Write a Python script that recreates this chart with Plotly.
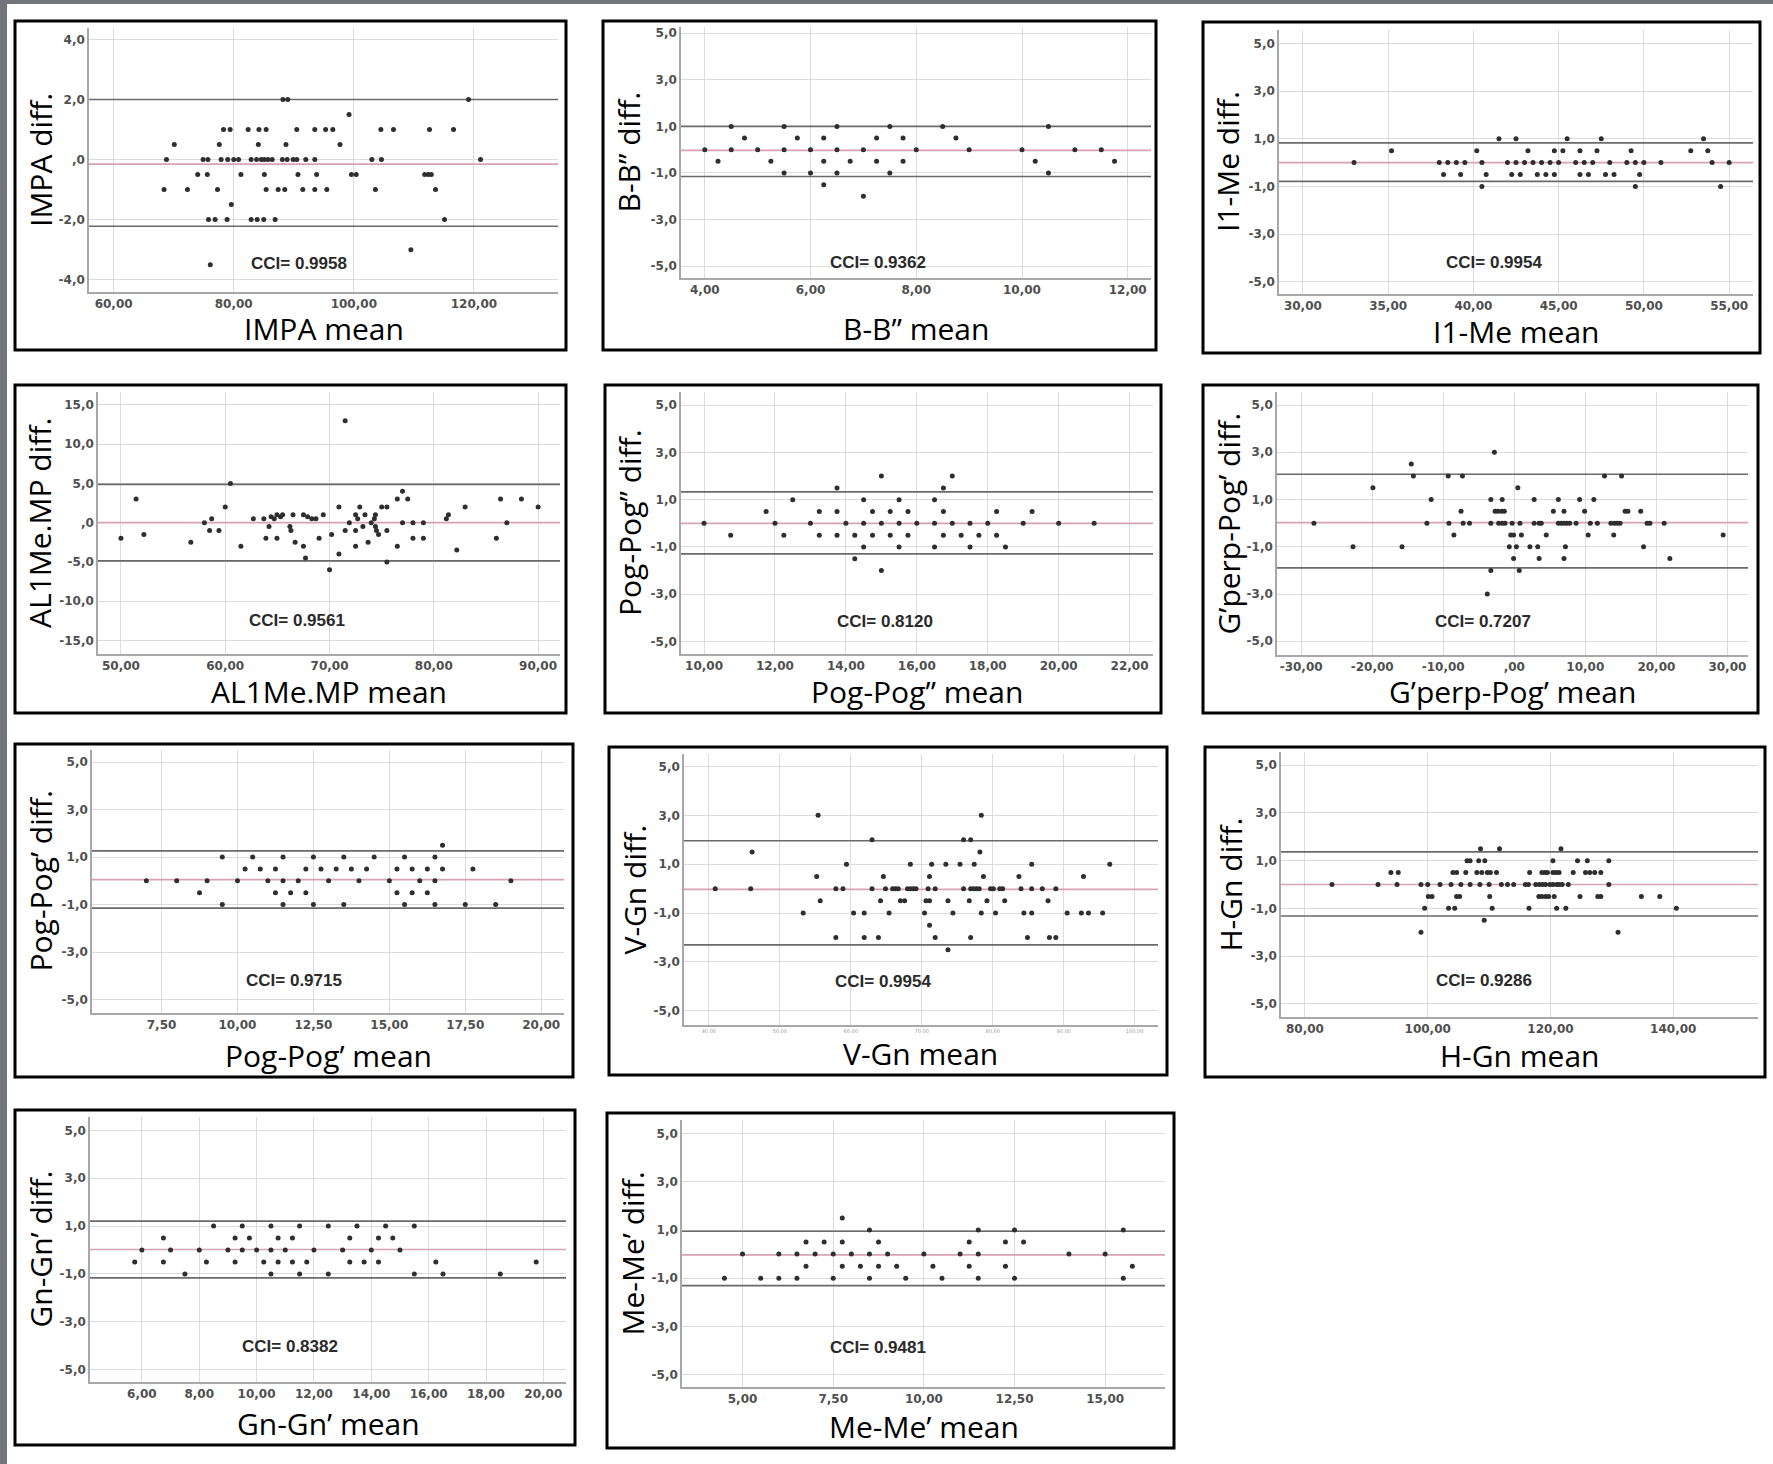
import plotly.graph_objects as go

W, H = 1773, 1464

# ---------------- DATA (mean, diff) pairs ----------------
impa = [(88.2, 2.0), (89.0, 2.0), (119.1, 2.0), (99.2, 1.5),
        (78.3, 1.0), (79.4, 1.0), (82.4, 1.0), (84.2, 1.0), (85.4, 1.0), (90.5, 1.0), (93.5, 1.0),
        (95.3, 1.0), (96.5, 1.0), (104.5, 1.0), (106.6, 1.0), (112.6, 1.0), (116.6, 1.0),
        (70.1, 0.5), (77.6, 0.5), (84.1, 0.5), (88.7, 0.5), (97.7, 0.5),
        (68.8, 0.0), (74.9, 0.0), (75.7, 0.0), (77.9, 0.0), (79.0, 0.0), (80.0, 0.0), (80.8, 0.0),
        (82.9, 0.0), (83.8, 0.0), (84.6, 0.0), (85.1, 0.0), (85.7, 0.0), (86.4, 0.0), (88.1, 0.0),
        (88.9, 0.0), (89.9, 0.0), (90.5, 0.0), (92.0, 0.0), (93.5, 0.0), (103.0, 0.0), (104.6, 0.0),
        (121.1, 0.0),
        (74.0, -0.5), (75.6, -0.5), (81.2, -0.5), (85.1, -0.5), (90.7, -0.5), (93.8, -0.5),
        (99.6, -0.5), (100.4, -0.5), (111.8, -0.5), (112.4, -0.5), (112.9, -0.5),
        (68.4, -1.0), (72.3, -1.0), (77.3, -1.0), (85.4, -1.0), (87.4, -1.0), (88.5, -1.0),
        (91.5, -1.0), (93.5, -1.0), (95.5, -1.0), (103.6, -1.0), (113.6, -1.0),
        (79.6, -1.5),
        (75.8, -2.0), (76.9, -2.0), (78.9, -2.0), (82.9, -2.0), (83.9, -2.0), (85.0, -2.0),
        (86.9, -2.0), (115.1, -2.0),
        (109.5, -3.0), (76.1, -3.5)]

bb = [(4.5, 1.0), (5.5, 1.0), (6.5, 1.0), (7.5, 1.0), (8.5, 1.0), (10.5, 1.0),
      (4.75, 0.5), (5.75, 0.5), (6.25, 0.5), (7.25, 0.5), (7.75, 0.5), (8.75, 0.5),
      (4.0, 0.0), (4.5, 0.0), (5.0, 0.0), (5.5, 0.0), (6.0, 0.0), (6.5, 0.0), (7.0, 0.0),
      (8.0, 0.0), (9.0, 0.0), (10.0, 0.0), (11.0, 0.0), (11.5, 0.0),
      (4.25, -0.5), (5.25, -0.5), (6.25, -0.5), (6.75, -0.5), (7.25, -0.5), (7.75, -0.5),
      (10.25, -0.5), (11.75, -0.5),
      (5.5, -1.0), (6.0, -1.0), (6.5, -1.0), (7.5, -1.0), (10.5, -1.0),
      (6.25, -1.5), (7.0, -2.0)]

i1me = [(41.5, 1.0), (42.5, 1.0), (45.5, 1.0), (47.5, 1.0), (53.5, 1.0),
        (35.2, 0.5), (40.2, 0.5), (43.2, 0.5), (44.75, 0.5), (45.25, 0.5), (46.25, 0.5),
        (47.25, 0.5), (49.25, 0.5), (52.75, 0.5), (53.75, 0.5),
        (33.0, 0.0), (38.0, 0.0), (38.5, 0.0), (39.0, 0.0), (39.5, 0.0), (40.5, 0.0), (42.0, 0.0),
        (42.5, 0.0), (43.0, 0.0), (43.5, 0.0), (44.0, 0.0), (44.5, 0.0), (45.0, 0.0), (46.0, 0.0),
        (46.5, 0.0), (47.0, 0.0), (48.0, 0.0), (49.0, 0.0), (49.5, 0.0), (50.0, 0.0), (51.0, 0.0),
        (54.0, 0.0), (55.0, 0.0),
        (38.25, -0.5), (39.25, -0.5), (40.75, -0.5), (42.25, -0.5), (42.75, -0.5), (43.75, -0.5),
        (44.25, -0.5), (44.75, -0.5), (46.25, -0.5), (46.75, -0.5), (47.75, -0.5), (48.25, -0.5),
        (49.75, -0.5),
        (40.5, -1.0), (49.5, -1.0), (54.5, -1.0)]

al1me = [(50.0, -2.0), (51.45, 3.0), (52.2, -1.5), (56.7, -2.5), (58.0, 0.0), (58.5, -1.0),
         (58.7, 0.5), (59.4, -1.0), (60.0, 2.0), (60.5, 5.0), (61.5, -3.0), (62.7, 0.5),
         (63.7, 0.5), (63.9, -2.0), (64.2, -0.5), (64.4, 0.75), (64.7, 0.5), (64.96, 1.0),
         (64.96, -2.0), (65.3, 0.75), (65.5, 1.0), (66.2, -0.5), (66.3, -1.0), (66.5, 1.0),
         (66.7, -2.5), (67.5, -3.0), (67.5, 1.0), (67.7, -4.5), (67.9, 0.75), (68.3, 0.5),
         (68.7, 0.5), (69.0, -2.0), (69.4, 1.0), (70.0, -6.0), (70.2, -1.5), (70.9, 2.0),
         (70.9, -4.0), (71.5, -1.0), (71.5, 13.0), (71.9, 0.0), (72.5, -1.0), (72.5, -3.0),
         (72.5, 1.0), (72.7, 0.5), (72.9, 2.0), (73.2, -0.5), (73.4, 1.0), (73.7, -2.5),
         (74.0, 0.0), (74.3, 0.5), (74.4, -0.5), (74.5, -1.0), (74.7, -1.5), (74.4, 1.0),
         (75.0, 2.0), (75.5, 2.0), (75.5, -1.0), (75.5, -5.0), (76.5, 3.0), (76.5, -3.0),
         (77.0, 4.0), (77.0, 0.0), (77.5, 3.0), (78.0, 0.0), (78.0, -2.0), (79.0, 0.0),
         (79.0, -2.0), (81.2, 0.5), (81.4, 1.0), (82.2, -3.5), (83.0, 2.0), (86.0, -2.0),
         (86.4, 3.0), (87.0, 0.0), (88.4, 3.0), (90.0, 2.0)]

pogpog2 = [(15.0, 2.0), (17.0, 2.0), (13.75, 1.5), (16.75, 1.5),
           (12.5, 1.0), (14.5, 1.0), (15.5, 1.0), (16.5, 1.0),
           (11.75, 0.5), (13.25, 0.5), (13.75, 0.5), (14.75, 0.5), (15.25, 0.5), (15.75, 0.5),
           (16.75, 0.5), (18.25, 0.5), (19.25, 0.5),
           (10.0, 0.0), (12.0, 0.0), (13.0, 0.0), (14.0, 0.0), (14.5, 0.0), (15.0, 0.0), (15.5, 0.0),
           (16.0, 0.0), (16.5, 0.0), (17.0, 0.0), (17.5, 0.0), (18.0, 0.0), (19.0, 0.0), (20.0, 0.0),
           (21.0, 0.0),
           (10.75, -0.5), (12.25, -0.5), (13.25, -0.5), (13.75, -0.5), (14.25, -0.5), (14.75, -0.5),
           (15.25, -0.5), (15.75, -0.5), (16.75, -0.5), (17.25, -0.5), (17.75, -0.5), (18.25, -0.5),
           (14.5, -1.0), (15.5, -1.0), (16.5, -1.0), (17.5, -1.0), (18.5, -1.0),
           (14.25, -1.5), (15.0, -2.0)]

gperp = [(-2.8, 3.0), (-14.5, 2.5),
         (-14.2, 2.0), (-9.3, 2.0), (-7.3, 2.0), (12.7, 2.0), (15.1, 2.0),
         (-19.9, 1.5), (0.5, 1.5),
         (-11.7, 1.0), (-3.3, 1.0), (-1.7, 1.0), (2.8, 1.0), (6.2, 1.0), (9.2, 1.0), (11.2, 1.0),
         (-7.5, 0.5), (-2.7, 0.5), (-2.3, 0.5), (-1.8, 0.5), (-1.4, 0.5), (5.5, 0.5), (7.0, 0.5),
         (9.9, 0.5), (15.6, 0.5), (16.0, 0.5), (17.8, 0.5),
         (-28.2, 0.0), (-12.3, 0.0), (-9.2, 0.0), (-7.2, 0.0), (-6.3, 0.0), (-3.3, 0.0), (-2.2, 0.0),
         (-1.7, 0.0), (-1.3, 0.0), (-0.3, 0.0), (0.8, 0.0), (2.8, 0.0), (3.5, 0.0), (3.8, 0.0),
         (6.2, 0.0), (6.6, 0.0), (7.0, 0.0), (7.4, 0.0), (7.8, 0.0), (8.7, 0.0), (10.7, 0.0),
         (11.7, 0.0), (13.6, 0.0), (14.1, 0.0), (14.5, 0.0), (14.9, 0.0), (18.7, 0.0), (19.1, 0.0),
         (21.1, 0.0),
         (-8.5, -0.5), (-0.5, -0.5), (-0.1, -0.5), (1.0, -0.5), (4.5, -0.5), (10.4, -0.5),
         (14.0, -0.5), (29.4, -0.5),
         (-22.7, -1.0), (-15.8, -1.0), (-0.7, -1.0), (0.3, -1.0), (2.2, -1.0), (3.3, -1.0),
         (7.2, -1.0), (18.2, -1.0),
         (-0.1, -1.5), (3.5, -1.5), (7.0, -1.5), (21.9, -1.5),
         (-3.3, -2.0), (0.7, -2.0), (-3.8, -3.0)]

pogpog1 = [(16.75, 1.5),
           (9.5, 1.0), (10.5, 1.0), (11.5, 1.0), (12.5, 1.0), (13.5, 1.0), (14.5, 1.0), (15.5, 1.0),
           (16.5, 1.0),
           (10.25, 0.5), (10.75, 0.5), (11.25, 0.5), (12.25, 0.5), (12.75, 0.5), (13.25, 0.5),
           (13.75, 0.5), (14.25, 0.5), (15.25, 0.5), (15.75, 0.5), (16.25, 0.5), (16.75, 0.5),
           (17.75, 0.5),
           (7.0, 0.0), (8.0, 0.0), (9.0, 0.0), (10.0, 0.0), (11.0, 0.0), (11.5, 0.0), (12.0, 0.0),
           (13.0, 0.0), (14.0, 0.0), (15.0, 0.0), (16.0, 0.0), (16.5, 0.0), (19.0, 0.0),
           (8.75, -0.5), (11.25, -0.5), (11.75, -0.5), (12.25, -0.5), (15.25, -0.5), (15.75, -0.5),
           (16.25, -0.5),
           (9.5, -1.0), (11.5, -1.0), (12.5, -1.0), (13.5, -1.0), (15.5, -1.0), (16.5, -1.0),
           (17.5, -1.0), (18.5, -1.0)]

vgn = [(55.4, 3.0), (78.4, 3.0),
       (63.0, 2.0), (75.9, 2.0), (76.9, 2.0),
       (46.1, 1.5), (78.2, 1.5),
       (59.4, 1.0), (68.4, 1.0), (71.4, 1.0), (73.4, 1.0), (75.4, 1.0), (77.4, 1.0), (85.5, 1.0),
       (96.5, 1.0),
       (55.2, 0.5), (64.6, 0.5), (71.1, 0.5), (78.7, 0.5), (83.7, 0.5), (92.8, 0.5),
       (40.9, 0.0), (45.9, 0.0), (57.9, 0.0), (58.9, 0.0), (63.0, 0.0), (64.9, 0.0), (65.9, 0.0),
       (66.3, 0.0), (66.7, 0.0), (68.0, 0.0), (68.4, 0.0), (68.8, 0.0), (69.2, 0.0), (70.9, 0.0),
       (71.9, 0.0), (75.9, 0.0), (76.9, 0.0), (77.3, 0.0), (77.7, 0.0), (78.1, 0.0), (79.7, 0.0),
       (80.1, 0.0), (81.0, 0.0), (81.4, 0.0), (84.0, 0.0), (85.5, 0.0), (87.0, 0.0), (88.9, 0.0),
       (55.7, -0.5), (64.2, -0.5), (67.0, -0.5), (67.6, -0.5), (70.6, -0.5), (71.1, -0.5),
       (73.7, -0.5), (76.7, -0.5), (79.2, -0.5), (81.7, -0.5), (87.8, -0.5),
       (53.3, -1.0), (60.4, -1.0), (61.9, -1.0), (65.4, -1.0), (70.4, -1.0), (74.4, -1.0),
       (78.4, -1.0), (80.4, -1.0), (84.4, -1.0), (85.5, -1.0), (90.5, -1.0), (92.5, -1.0),
       (93.5, -1.0), (95.5, -1.0),
       (71.1, -1.5),
       (57.9, -2.0), (61.9, -2.0), (63.9, -2.0), (71.9, -2.0), (76.9, -2.0), (84.9, -2.0),
       (88.0, -2.0), (88.9, -2.0),
       (73.7, -2.5)]

hgn = [(108.6, 1.5), (111.7, 1.5), (121.7, 1.5),
       (106.4, 1.0), (106.9, 1.0), (108.3, 1.0), (109.3, 1.0), (120.4, 1.0), (124.4, 1.0),
       (126.0, 1.0), (129.5, 1.0),
       (94.0, 0.5), (95.2, 0.5), (104.1, 0.5), (104.7, 0.5), (106.2, 0.5), (108.0, 0.5),
       (108.8, 0.5), (109.7, 0.5), (110.2, 0.5), (111.2, 0.5), (116.6, 0.5), (118.6, 0.5),
       (119.1, 0.5), (119.5, 0.5), (120.4, 0.5), (120.9, 0.5), (121.4, 0.5), (123.7, 0.5),
       (125.7, 0.5), (126.4, 0.5), (127.2, 0.5), (128.2, 0.5),
       (84.4, 0.0), (91.9, 0.0), (95.0, 0.0), (98.9, 0.0), (100.0, 0.0), (102.0, 0.0), (103.8, 0.0),
       (105.4, 0.0), (106.9, 0.0), (108.5, 0.0), (110.0, 0.0), (112.0, 0.0), (113.0, 0.0),
       (114.0, 0.0), (115.9, 0.0), (116.4, 0.0), (117.6, 0.0), (118.2, 0.0), (118.7, 0.0),
       (119.2, 0.0), (119.9, 0.0), (120.4, 0.0), (121.0, 0.0), (121.4, 0.0), (121.9, 0.0),
       (122.9, 0.0), (129.5, 0.0),
       (100.1, -0.5), (100.7, -0.5), (104.7, -0.5), (105.2, -0.5), (110.1, -0.5), (118.1, -0.5),
       (118.6, -0.5), (119.2, -0.5), (119.7, -0.5), (120.6, -0.5), (124.8, -0.5), (127.7, -0.5),
       (128.2, -0.5), (134.8, -0.5), (137.8, -0.5),
       (99.5, -1.0), (103.4, -1.0), (104.4, -1.0), (110.5, -1.0), (116.5, -1.0), (121.0, -1.0),
       (122.5, -1.0), (140.5, -1.0),
       (109.2, -1.5), (98.9, -2.0), (131.0, -2.0)]

gngn = [(8.5, 1.0), (9.5, 1.0), (10.5, 1.0), (11.5, 1.0), (12.5, 1.0), (13.5, 1.0), (14.5, 1.0),
        (15.5, 1.0),
        (6.75, 0.5), (9.25, 0.5), (9.75, 0.5), (10.75, 0.5), (11.25, 0.5), (13.25, 0.5),
        (14.25, 0.5), (14.75, 0.5),
        (6.0, 0.0), (7.0, 0.0), (8.0, 0.0), (9.0, 0.0), (9.5, 0.0), (10.0, 0.0), (10.5, 0.0),
        (11.0, 0.0), (12.0, 0.0), (13.0, 0.0), (14.0, 0.0), (15.0, 0.0),
        (5.75, -0.5), (6.75, -0.5), (8.25, -0.5), (9.25, -0.5), (10.25, -0.5), (10.75, -0.5),
        (11.25, -0.5), (11.75, -0.5), (13.25, -0.5), (13.75, -0.5), (14.25, -0.5), (16.25, -0.5),
        (19.75, -0.5),
        (7.5, -1.0), (10.5, -1.0), (11.5, -1.0), (12.5, -1.0), (15.5, -1.0), (16.5, -1.0),
        (18.5, -1.0)]

meme = [(7.75, 1.5),
        (8.5, 1.0), (11.5, 1.0), (12.5, 1.0), (15.5, 1.0),
        (6.75, 0.5), (7.25, 0.5), (7.75, 0.5), (8.75, 0.5), (11.25, 0.5), (12.25, 0.5), (12.75, 0.5),
        (5.0, 0.0), (6.0, 0.0), (6.5, 0.0), (7.0, 0.0), (7.5, 0.0), (8.0, 0.0), (8.5, 0.0),
        (9.0, 0.0), (10.0, 0.0), (11.0, 0.0), (11.5, 0.0), (14.0, 0.0), (15.0, 0.0),
        (6.75, -0.5), (7.75, -0.5), (8.25, -0.5), (8.75, -0.5), (9.25, -0.5), (10.25, -0.5),
        (11.25, -0.5), (12.25, -0.5), (15.75, -0.5),
        (4.5, -1.0), (5.5, -1.0), (6.0, -1.0), (6.5, -1.0), (7.5, -1.0), (8.5, -1.0), (9.5, -1.0),
        (10.5, -1.0), (11.5, -1.0), (12.5, -1.0), (15.5, -1.0)]

datasets = [impa, bb, i1me, al1me, pogpog2, gperp, pogpog1, vgn, hgn, gngn, meme]

# Limits of agreement (upper, mean, lower)
loa_upper = [2.0, 1.0, 0.83, 4.87, 1.33, 2.07, 1.26, 1.96, 1.37, 1.21, 0.95]
loa_mean = [-0.15, -0.03, 0.0, 0.0, 0.0, 0.02, 0.05, -0.03, 0.0, 0.02, -0.03]
loa_lower = [-2.22, -1.15, -0.79, -4.87, -1.29, -1.89, -1.15, -2.3, -1.32, -1.17, -1.31]

cci_values = ["0.9958", "0.9362", "0.9954", "0.9561", "0.8120", "0.7207",
              "0.9715", "0.9954", "0.9286", "0.8382", "0.9481"]

y_titles = ["IMPA diff.", "B-B\u201d diff.", "I1-Me diff.", "AL1Me.MP diff.", "Pog-Pog\u201d diff.",
            "G\u2019perp-Pog\u2019 diff.", "Pog-Pog\u2019 diff.", "V-Gn diff.", "H-Gn diff.",
            "Gn-Gn\u2019 diff.", "Me-Me\u2019 diff."]
x_titles = ["IMPA mean", "B-B\u201d mean", "I1-Me mean", "AL1Me.MP mean", "Pog-Pog\u201d mean",
            "G\u2019perp-Pog\u2019 mean", "Pog-Pog\u2019 mean", "V-Gn mean", "H-Gn mean",
            "Gn-Gn\u2019 mean", "Me-Me\u2019 mean"]

x_tickvals = [[60, 80, 100, 120], [4, 6, 8, 10, 12], [30, 35, 40, 45, 50, 55],
              [50, 60, 70, 80, 90], [10, 12, 14, 16, 18, 20, 22], [-30, -20, -10, 0, 10, 20, 30],
              [7.5, 10, 12.5, 15, 17.5, 20], [40, 50, 60, 70, 80, 90, 100], [80, 100, 120, 140],
              [6, 8, 10, 12, 14, 16, 18, 20], [5, 7.5, 10, 12.5, 15]]
x_ticktext = [["60,00", "80,00", "100,00", "120,00"],
              ["4,00", "6,00", "8,00", "10,00", "12,00"],
              ["30,00", "35,00", "40,00", "45,00", "50,00", "55,00"],
              ["50,00", "60,00", "70,00", "80,00", "90,00"],
              ["10,00", "12,00", "14,00", "16,00", "18,00", "20,00", "22,00"],
              ["-30,00", "-20,00", "-10,00", ",00", "10,00", "20,00", "30,00"],
              ["7,50", "10,00", "12,50", "15,00", "17,50", "20,00"],
              ["40,00", "50,00", "60,00", "70,00", "80,00", "90,00", "100,00"],
              ["80,00", "100,00", "120,00", "140,00"],
              ["6,00", "8,00", "10,00", "12,00", "14,00", "16,00", "18,00", "20,00"],
              ["5,00", "7,50", "10,00", "12,50", "15,00"]]

y_tick_a = [-4, -2, 0, 2, 4]
y_text_a = ["-4,0", "-2,0", ",0", "2,0", "4,0"]
y_tick_b = [-5, -3, -1, 1, 3, 5]
y_text_b = ["-5,0", "-3,0", "-1,0", "1,0", "3,0", "5,0"]
y_tick_c = [-15, -10, -5, 0, 5, 10, 15]
y_text_c = ["-15,0", "-10,0", "-5,0", ",0", "5,0", "10,0", "15,0"]

# ---------------- GEOMETRY (pixels) ----------------
boxes = [(15, 21, 566, 350), (603, 21, 1156, 350), (1203, 22, 1760, 353),
         (15, 385, 566, 713), (605, 385, 1161, 713), (1203, 385, 1758, 713),
         (15, 744, 573, 1077), (609, 747, 1167, 1075), (1205, 747, 1765, 1077),
         (15, 1110, 575, 1445), (607, 1113, 1174, 1448)]
plots = [(89, 558, 28, 292), (681, 1151, 27, 278), (1279, 1753, 30, 294),
         (98, 560, 392, 654), (681, 1153, 392, 654), (1277, 1748, 392, 655),
         (92, 564, 750, 1013), (684, 1158, 754, 1025), (1281, 1758, 752, 1017),
         (90, 566, 1117, 1382), (682, 1165, 1120, 1387)]
xranges = [(55.9, 134), (3.55, 12.44), (28.6, 56.4), (47.8, 92.1), (9.35, 22.66),
           (-33.4, 32.9), (5.21, 20.75), (36.5, 103.3), (76.1, 153.8), (4.19, 20.79),
           (3.33, 16.65)]
yranges = [(-4.41, 4.38), (-5.51, 5.27), (-5.52, 5.57), (-16.74, 16.65), (-5.53, 5.56),
           (-5.58, 5.55), (-5.57, 5.51), (-5.58, 5.51), (-5.55, 5.55), (-5.52, 5.56),
           (-5.52, 5.57)]
cci_pos = [(90.8, -3.46), (7.28, -4.83), (41.2, -4.18), (66.9, -12.5), (15.1, -4.15),
           (-4.4, -4.17), (11.85, -4.19), (64.6, -3.78), (109.2, -4.04), (11.15, -4.05),
           (8.73, -3.87)]

GRID = "#dcdcdc"
AXIS = "#a8a8a8"
LOA = "#6a6a6a"
MEAN = "#d8a2b2"
DOT = "#2e2e2e"

fig = go.Figure()
layout = dict(width=W, height=H, margin=dict(l=0, r=0, t=0, b=0),
              paper_bgcolor="white", plot_bgcolor="white", showlegend=False)
shapes = []
annotations = []

# gray page frame (top and left)
shapes.append(dict(type="rect", xref="paper", yref="paper", x0=0, x1=1, y0=1 - 4 / H, y1=1,
                   fillcolor="#71767a", line=dict(width=0)))
shapes.append(dict(type="rect", xref="paper", yref="paper", x0=0, x1=7 / W, y0=0, y1=1,
                   fillcolor="#71767a", line=dict(width=0)))

for i in range(11):
    n = "" if i == 0 else str(i + 1)
    xa, ya = "x" + n, "y" + n
    data = datasets[i]
    xr = xranges[i]
    # limits of agreement and mean difference lines
    for val, col in ((loa_upper[i], LOA), (loa_lower[i], LOA), (loa_mean[i], MEAN)):
        fig.add_trace(go.Scatter(x=[xr[0], xr[1]], y=[val, val], mode="lines",
                                 xaxis=xa, yaxis=ya, hoverinfo="skip",
                                 line=dict(color=col, width=1.7)))
    fig.add_trace(go.Scatter(x=[p[0] for p in data], y=[p[1] for p in data], mode="markers",
                             xaxis=xa, yaxis=ya, hoverinfo="skip",
                             marker=dict(size=5, color=DOT)))
    x0, x1, y0, y1 = plots[i]
    if i == 0:
        yt, ytt = y_tick_a, y_text_a
    elif i == 3:
        yt, ytt = y_tick_c, y_text_c
    else:
        yt, ytt = y_tick_b, y_text_b
    xfont = dict(family="DejaVu Sans", size=12, color="#4f4f4f", weight="bold")
    if i == 7:
        xfont = dict(family="DejaVu Sans", size=5, color="#9a9a9a")
    layout["xaxis" + n] = dict(domain=[x0 / W, x1 / W], range=list(xr), anchor=ya,
                               tickvals=x_tickvals[i], ticktext=x_ticktext[i], tickfont=xfont,
                               showgrid=True, gridcolor=GRID, gridwidth=1, zeroline=False,
                               showline=True, linecolor=AXIS, linewidth=1.5, ticks="",
                               fixedrange=True)
    layout["yaxis" + n] = dict(domain=[1 - y1 / H, 1 - y0 / H], range=list(yranges[i]), anchor=xa,
                               tickvals=yt, ticktext=ytt,
                               tickfont=dict(family="DejaVu Sans", size=12, color="#4f4f4f",
                                             weight="bold"),
                               showgrid=True, gridcolor=GRID, gridwidth=1, zeroline=False,
                               showline=True, linecolor=AXIS, linewidth=1.5, ticks="",
                               fixedrange=True)
    # panel frame
    bl, bt, br, bb_ = boxes[i]
    shapes.append(dict(type="rect", xref="paper", yref="paper", x0=bl / W, x1=br / W,
                       y0=1 - bb_ / H, y1=1 - bt / H, line=dict(color="black", width=3)))
    # axis titles
    annotations.append(dict(xref="paper", yref="paper", x=(x0 + x1) / 2 / W, y=1 - (bb_ - 22) / H,
                            text=x_titles[i], showarrow=False, xanchor="center", yanchor="middle",
                            font=dict(family="Open Sans", size=30, color="black")))
    annotations.append(dict(xref="paper", yref="paper", x=(bl + 25) / W, y=1 - (y0 + y1) / 2 / H,
                            text=y_titles[i], showarrow=False, textangle=-90,
                            xanchor="center", yanchor="middle",
                            font=dict(family="Open Sans", size=30, color="black")))
    # CCI label
    annotations.append(dict(xref=xa, yref=ya, x=cci_pos[i][0], y=cci_pos[i][1],
                            text="CCI= " + cci_values[i], showarrow=False,
                            xanchor="center", yanchor="middle",
                            font=dict(family="Liberation Sans", size=17, color="#2a2a2a",
                                      weight="bold")))

layout["shapes"] = shapes
layout["annotations"] = annotations
fig.update_layout(**layout)
fig.write_html("out.html", config={"displayModeBar": False},
               post_script="document.body.style.margin='0px';")
